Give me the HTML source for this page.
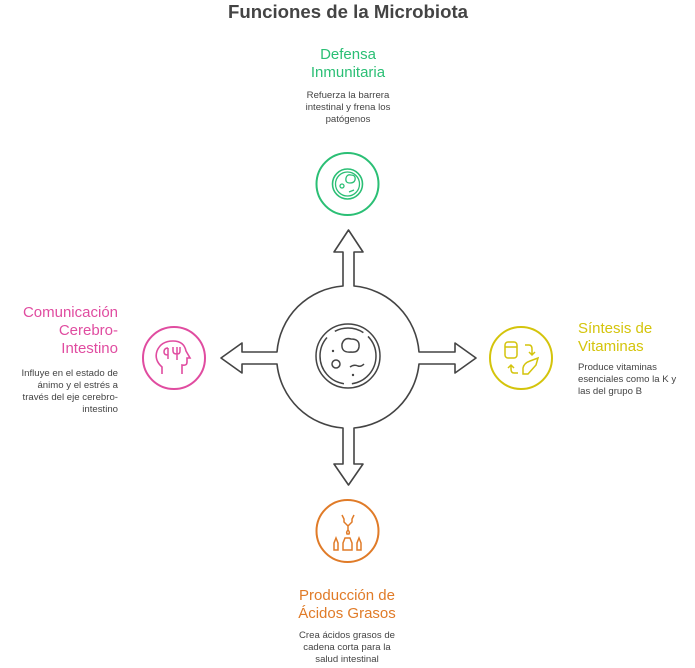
<!DOCTYPE html>
<html><head><meta charset="utf-8"><style>
html,body{margin:0;padding:0;background:#fff;}
svg{display:block;font-family:"Liberation Sans",sans-serif;}
</style></head><body>
<svg width="695" height="668" viewBox="0 0 695 668" xmlns="http://www.w3.org/2000/svg">
<text x="348" y="18" text-anchor="middle" font-size="18" font-weight="bold" fill="#444" textLength="240" lengthAdjust="spacingAndGlyphs">Funciones de la Microbiota</text>

<path d="M343,286 L343,252 L334,252 L348.5,230 L363,252 L354,252 L354,286
A71.5,71.5 0 0 1 419,352 L455,352 L455,343 L476,358 L455,373 L455,364 L419,364
A71.5,71.5 0 0 1 354,428 L354,464 L363,464 L348.5,485 L334,464 L343,464 L343,428
A71.5,71.5 0 0 1 277,364 L242,364 L242,373 L221,358 L242,343 L242,352 L277,352
A71.5,71.5 0 0 1 343,286 Z" fill="#fff" stroke="#444" stroke-width="1.6" stroke-linejoin="round"/>
<circle cx="348" cy="356" r="32" fill="none" stroke="#444" stroke-width="1.5"/>
<circle cx="348" cy="356" r="28" fill="none" stroke="#444" stroke-width="1.5" stroke-dasharray="40 8 60 10 30 6"/>
<path d="M342,344 q2,-7 9,-5 q9,0 8,8 q-1,6 -8,5 q-10,1 -9,-8z" fill="none" stroke="#444" stroke-width="1.5"/>
<circle cx="336" cy="364" r="4" fill="none" stroke="#444" stroke-width="1.5"/>
<path d="M350,367 q4,-3 8,-1 q3,1 6,-2" fill="none" stroke="#444" stroke-width="1.5"/>
<circle cx="333" cy="351" r="1.2" fill="#444"/><circle cx="353" cy="375" r="1.2" fill="#444"/>

<circle cx="347.5" cy="184" r="31" fill="none" stroke="#2bbf75" stroke-width="2"/>
<circle cx="347.5" cy="184" r="15" fill="none" stroke="#2bbf75" stroke-width="1.6"/>
<circle cx="347.5" cy="184" r="12" fill="none" stroke="#2bbf75" stroke-width="1.3"/>
<path d="M346,178 q1,-4 5,-3 q5,0 4,5 q-1,3 -5,3 q-5,0 -4,-5z" fill="none" stroke="#2bbf75" stroke-width="1.3"/>
<circle cx="342" cy="186" r="2" fill="none" stroke="#2bbf75" stroke-width="1.3"/>
<path d="M349,192 l5,-2" stroke="#2bbf75" stroke-width="1.3"/>
<text text-anchor="middle" font-size="15" fill="#2bbf75"><tspan x="348" y="59">Defensa</tspan><tspan x="348" y="77">Inmunitaria</tspan></text>
<text text-anchor="middle" font-size="9.6" fill="#444"><tspan x="348" y="98">Refuerza la barrera</tspan><tspan x="348" y="110">intestinal y frena los</tspan><tspan x="348" y="122">patógenos</tspan></text>

<circle cx="174" cy="358" r="31" fill="none" stroke="#e04ca0" stroke-width="2"/>
<path d="M162,374 v-7 q-8,-7 -5,-16 q4,-10 16,-10 q11,0 13,10 l4,7 h-3 v4 q0,4 -5,3 v9" fill="none" stroke="#e04ca0" stroke-width="1.6"/>
<path d="M168,348 v11 M168,348 q-4,0 -4,4 q0,3 4,3 M177,347 v13 M173,347 v4 q0,3 4,3 q3,0 3,-3 v-4" fill="none" stroke="#e04ca0" stroke-width="1.5"/>
<text text-anchor="end" font-size="15" fill="#e04ca0"><tspan x="118" y="317">Comunicación</tspan><tspan x="118" y="335">Cerebro-</tspan><tspan x="118" y="353">Intestino</tspan></text>
<text text-anchor="end" font-size="9.6" fill="#444"><tspan x="118" y="376">Influye en el estado de</tspan><tspan x="118" y="388">ánimo y el estrés a</tspan><tspan x="118" y="400">través del eje cerebro-</tspan><tspan x="118" y="412">intestino</tspan></text>

<circle cx="521" cy="358" r="31" fill="none" stroke="#d4c40c" stroke-width="2"/>
<rect x="505" y="342" width="12" height="16" rx="3" fill="none" stroke="#d4c40c" stroke-width="1.5"/>
<path d="M505,347 h12 M525,345 h4 q3,0 3,4 v5 m-3,-2 l3,3 l3,-3 M518,373 h-4 q-3,0 -3,-4 v-3 m-3,2 l3,-3 l3,3 M530,361 l8,-3 l-2,7 l-8,9 h-5 v-6 q1,-5 7,-7z" fill="none" stroke="#d4c40c" stroke-width="1.5"/>
<text font-size="15" fill="#d4c40c"><tspan x="578" y="333">Síntesis de</tspan><tspan x="578" y="351">Vitaminas</tspan></text>
<text font-size="9.6" fill="#444"><tspan x="578" y="370">Produce vitaminas</tspan><tspan x="578" y="382">esenciales como la K y</tspan><tspan x="578" y="394">las del grupo B</tspan></text>

<circle cx="347.5" cy="531" r="31" fill="none" stroke="#e07b28" stroke-width="2"/>
<path d="M342,515 l2,4 v3 l4,4 l4,-4 v-3 l2,-4 M348,526 v4 M348,530 q-2,2 -1,4 h2 q1,-2 -1,-4" fill="none" stroke="#e07b28" stroke-width="1.5"/>
<path d="M334,550 v-7 l2,-5 l2,5 v7 z M343,550 v-7 l2,-5 h5 l2,5 v7 z M357,550 v-7 l2,-5 l2,5 v7 z" fill="none" stroke="#e07b28" stroke-width="1.5"/>
<text text-anchor="middle" font-size="15" fill="#e07b28"><tspan x="347" y="600">Producción de</tspan><tspan x="347" y="618">Ácidos Grasos</tspan></text>
<text text-anchor="middle" font-size="9.6" fill="#444"><tspan x="347" y="638">Crea ácidos grasos de</tspan><tspan x="347" y="650">cadena corta para la</tspan><tspan x="347" y="662">salud intestinal</tspan></text>
</svg>
</body></html>
